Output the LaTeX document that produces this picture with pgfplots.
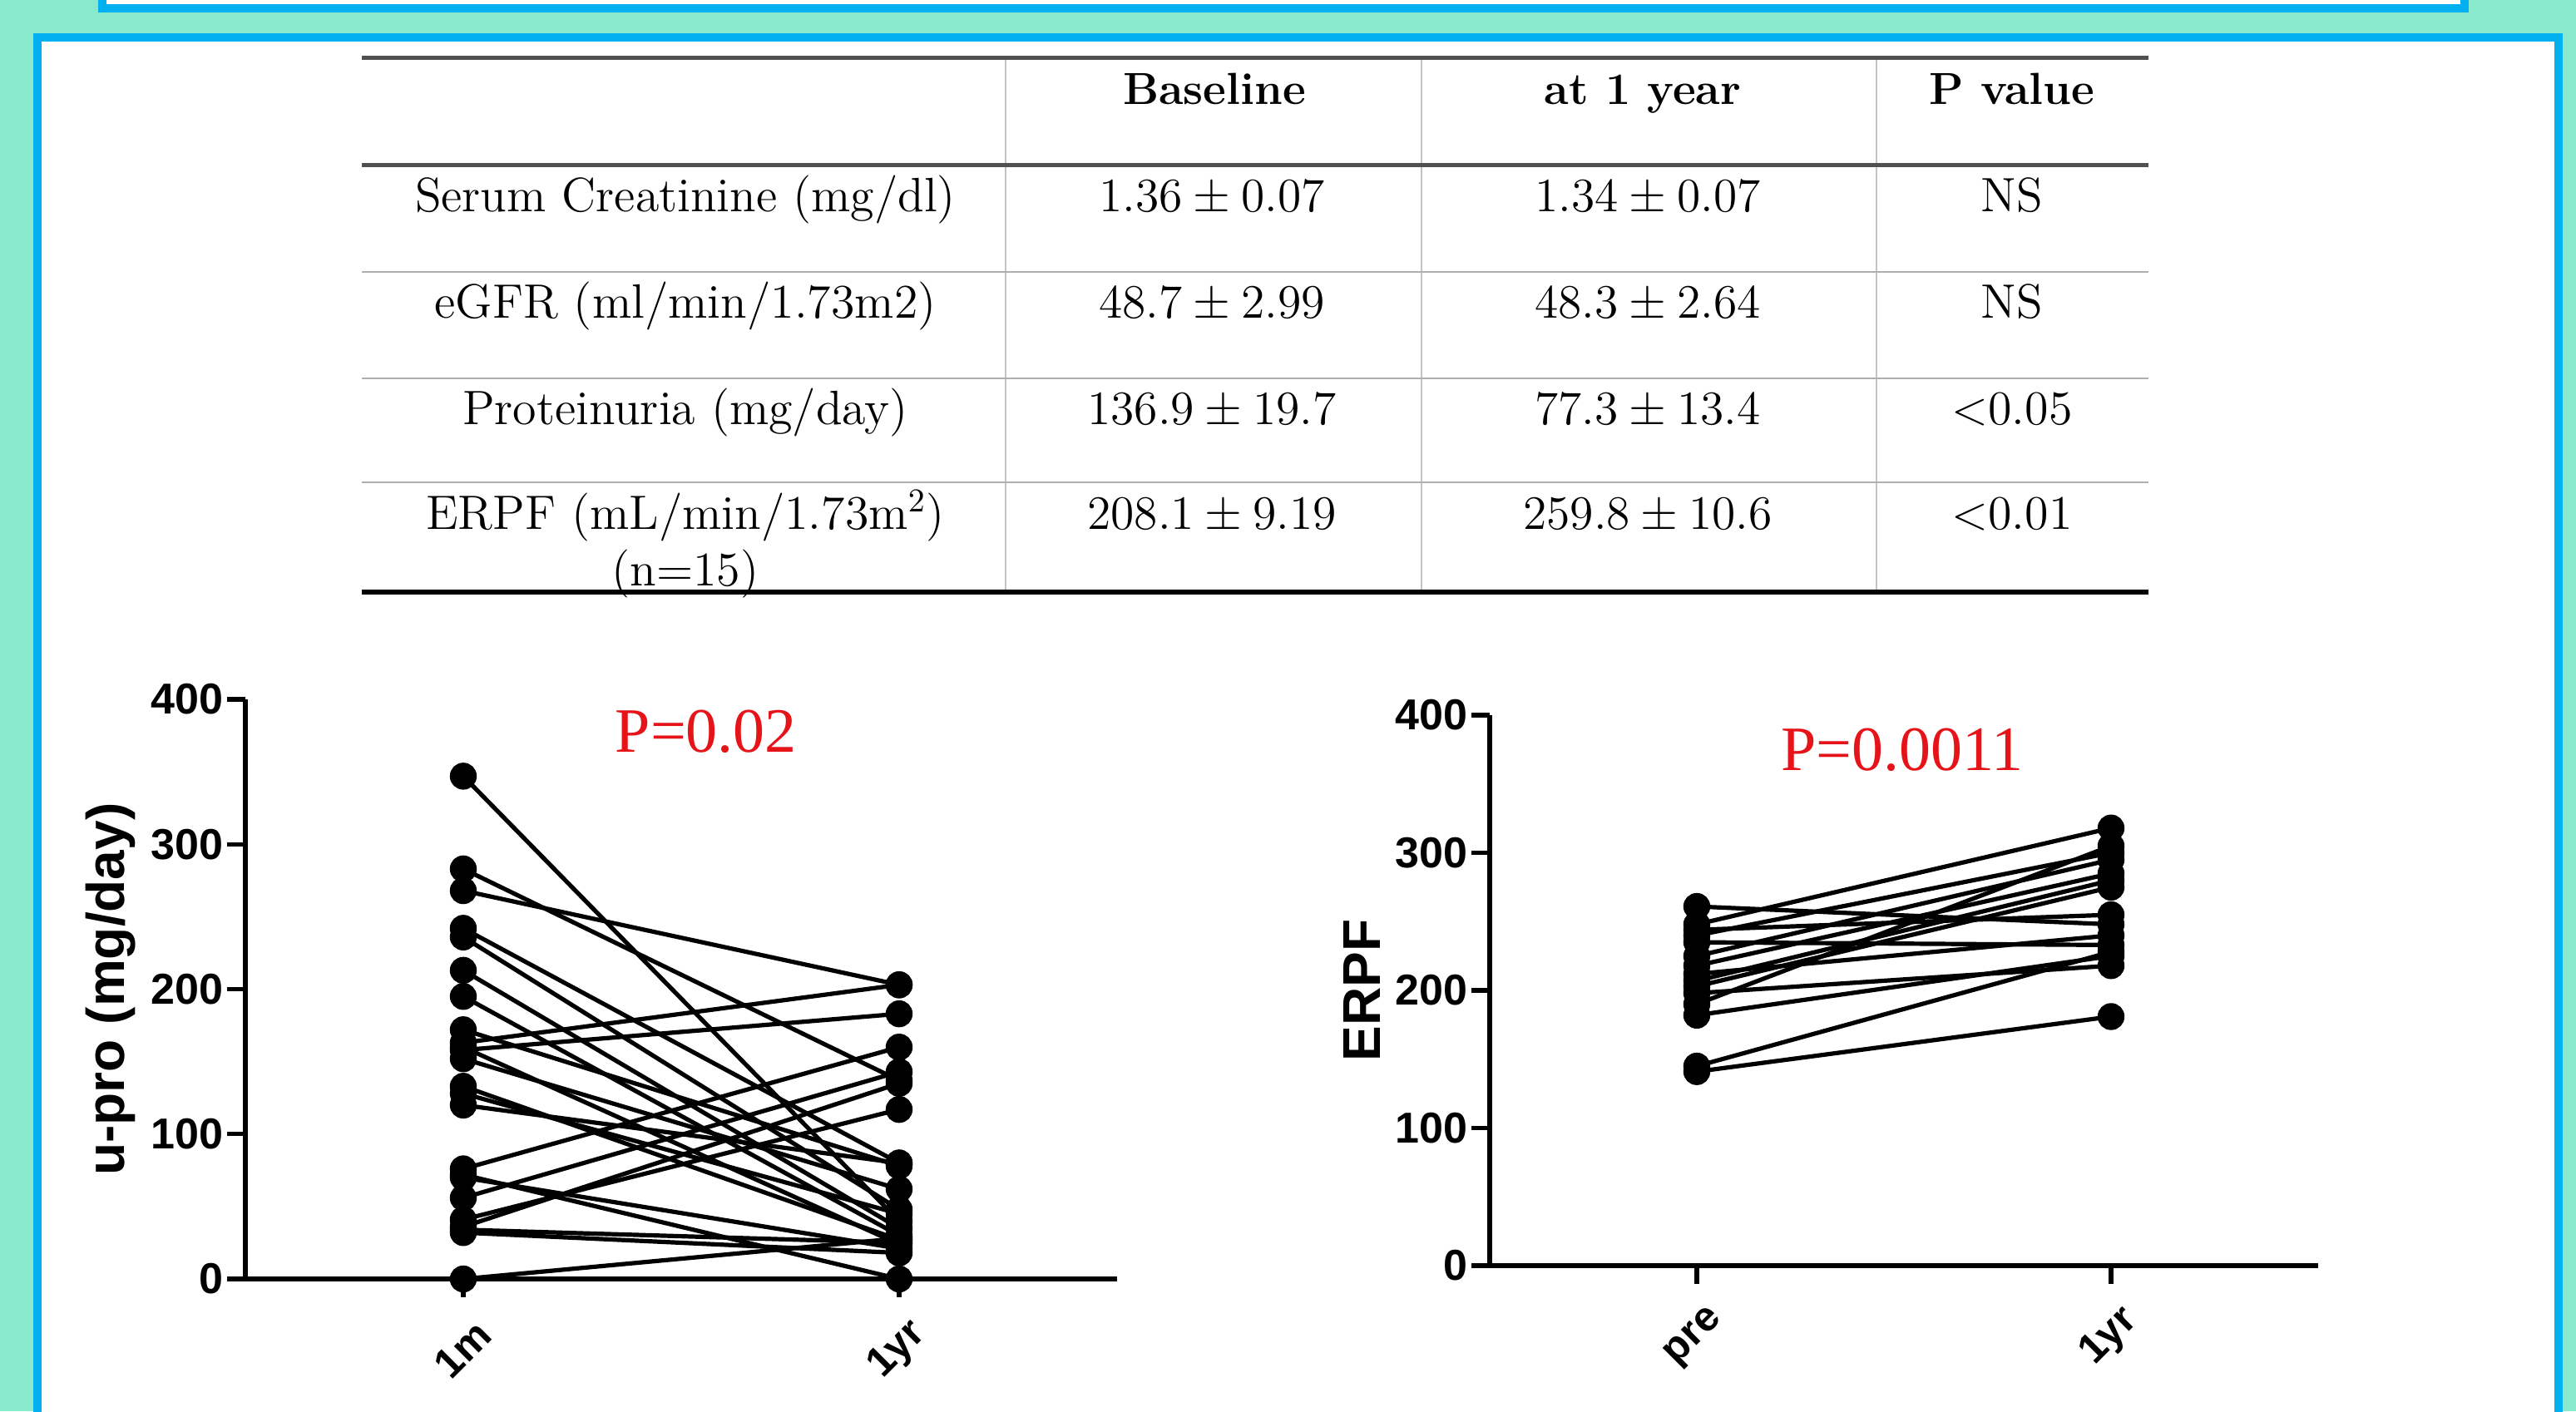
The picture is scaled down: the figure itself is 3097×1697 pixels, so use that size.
\documentclass[border=0pt]{standalone}
\usepackage{fontspec}
\usepackage{pgfplots}
\pgfplotsset{compat=1.18}
\newfontfamily\arialfont{Liberation Sans}
\newfontfamily\timesfont{Liberation Serif}
\definecolor{bgteal}{RGB}{136,233,204}
\definecolor{bordercyan}{RGB}{0,176,240}
\definecolor{pred}{RGB}{230,20,25}
\definecolor{darkline}{RGB}{80,80,80}
\definecolor{lightline}{RGB}{175,175,175}
\definecolor{vline}{RGB}{195,195,195}
\pgfplotsset{
  pairaxis/.style={
    scale only axis,
    xmin=-0.5, xmax=1.5, ymin=0, ymax=400,
    axis x line*=bottom, axis y line*=left,
    axis line style={line width=1.4pt, black},
    ytick={0,100,200,300,400}, xtick={0,1},
    tick align=outside, major tick length=5.5pt,
    tick style={line width=1.3pt, black},
    /pgf/number format/assume math mode=true,
    yticklabel style={font=\arialfont\bfseries\fontsize{13}{15}\selectfont, inner sep=1pt},
    xticklabel style={font=\arialfont\bfseries\fontsize{12.5}{14}\selectfont, rotate=45, anchor=east, inner sep=1pt, yshift=-11pt, xshift=-1pt},
    ylabel style={font=\arialfont\bfseries\fontsize{16}{18}\selectfont},
    clip=false,
  },
  pt/.style={black, line width=1.3pt, mark=*, mark size=3.4pt, mark options={solid, fill=black}},
}
\begin{document}
\begin{tikzpicture}
\begin{scope}[x=0.25pt,y=-0.25pt]
  \useasboundingbox (0,0) rectangle (3097,1697);
  \clip (0,0) rectangle (3097,1697);
  \fill[bgteal] (0,0) rectangle (3097,1697);
  % top box
  \fill[bordercyan] (118,-30) rectangle (2968,15);
  \fill[white] (128,-30) rectangle (2958,5);
  % main box
  \fill[bordercyan] (40,40) rectangle (3081,1750);
  \fill[white] (50,50) rectangle (3071,1750);
  % table lines
  \draw[vline, line width=0.5pt] (1209,69) -- (1209,712) (1709,69) -- (1709,712) (2256,69) -- (2256,712);
  \draw[darkline, line width=1.25pt] (435,69) -- (2583,69);
  \draw[darkline, line width=1.25pt] (435,198) -- (2583,198);
  \draw[lightline, line width=0.7pt] (435,327) -- (2583,327) (435,455) -- (2583,455) (435,580) -- (2583,580);
  \draw[black, line width=1.5pt] (435,712) -- (2583,712);
  % header
  \begin{scope}[every node/.style={anchor=base, inner sep=0pt, font=\bfseries\fontsize{13.5}{16}\selectfont}]
    \node at (1460,125) {Baseline};
    \node at (1975,125) {at 1 year};
    \node at (2419,125) {P value};
  \end{scope}
  \begin{scope}[every node/.style={anchor=base, inner sep=0pt, font=\fontsize{14.5}{17}\selectfont}]
    \node at (824,254) {Serum Creatinine (mg/dl)};
    \node at (1457,254) {$1.36\pm0.07$};
    \node at (1981,254) {$1.34\pm0.07$};
    \node at (2419,254) {NS};
    \node at (824,382) {eGFR (ml/min/1.73m2)};
    \node at (1457,382) {$48.7\pm2.99$};
    \node at (1981,382) {$48.3\pm2.64$};
    \node at (2419,382) {NS};
    \node at (824,510) {Proteinuria (mg/day)};
    \node at (1457,510) {$136.9\pm19.7$};
    \node at (1981,510) {$77.3\pm13.4$};
    \node at (2419,510) {$<$0.05};
    \node at (824,636) {ERPF (mL/min/1.73m$^{2}$)};
    \node at (824,704) {(n=15)};
    \node at (1457,636) {$208.1\pm9.19$};
    \node at (1981,636) {$259.8\pm10.6$};
    \node at (2419,636) {$<$0.01};
  \end{scope}
\end{scope}

% left plot: u-pro
\begin{axis}[pairaxis, at={(73.75pt,-384.5pt)}, anchor=south west,
  width=262pt, height=174.25pt,
  xticklabels={1m,1yr}, ylabel={u-pro (mg/day)}]
\addplot[pt] coordinates {(0,347) (1,40)};
\addplot[pt] coordinates {(0,283) (1,137)};
\addplot[pt] coordinates {(0,268) (1,203)};
\addplot[pt] coordinates {(0,242) (1,80)};
\addplot[pt] coordinates {(0,236) (1,48)};
\addplot[pt] coordinates {(0,213) (1,35)};
\addplot[pt] coordinates {(0,195) (1,30)};
\addplot[pt] coordinates {(0,172) (1,78)};
\addplot[pt] coordinates {(0,163) (1,203)};
\addplot[pt] coordinates {(0,158) (1,183)};
\addplot[pt] coordinates {(0,152) (1,62)};
\addplot[pt] coordinates {(0,133) (1,27)};
\addplot[pt] coordinates {(0,128) (1,45)};
\addplot[pt] coordinates {(0,120) (1,80)};
\addplot[pt] coordinates {(0,160) (1,24)};
\addplot[pt] coordinates {(0,76) (1,160)};
\addplot[pt] coordinates {(0,72) (1,0)};
\addplot[pt] coordinates {(0,70) (1,21)};
\addplot[pt] coordinates {(0,56) (1,143)};
\addplot[pt] coordinates {(0,41) (1,117)};
\addplot[pt] coordinates {(0,36) (1,135)};
\addplot[pt] coordinates {(0,34) (1,25)};
\addplot[pt] coordinates {(0,32) (1,18)};
\addplot[pt] coordinates {(0,0) (1,28)};
\node[font=\timesfont\fontsize{19}{22}\selectfont, text=pred, inner sep=0pt] at (axis cs:0.557,378) {P=0.02};
\end{axis}

% right plot: ERPF
\begin{axis}[pairaxis, at={(447.75pt,-380.5pt)}, anchor=south west,
  width=249pt, height=165.5pt,
  xticklabels={pre,1yr}, ylabel={ERPF}]
\addplot[pt] coordinates {(0,261) (1,248)};
\addplot[pt] coordinates {(0,248) (1,318)};
\addplot[pt] coordinates {(0,244) (1,255)};
\addplot[pt] coordinates {(0,240) (1,300)};
\addplot[pt] coordinates {(0,235) (1,233)};
\addplot[pt] coordinates {(0,225) (1,295)};
\addplot[pt] coordinates {(0,218) (1,285)};
\addplot[pt] coordinates {(0,212) (1,240)};
\addplot[pt] coordinates {(0,207) (1,280)};
\addplot[pt] coordinates {(0,203) (1,275)};
\addplot[pt] coordinates {(0,198) (1,218)};
\addplot[pt] coordinates {(0,190) (1,305)};
\addplot[pt] coordinates {(0,182) (1,225)};
\addplot[pt] coordinates {(0,145) (1,228)};
\addplot[pt] coordinates {(0,141) (1,181)};
\node[font=\timesfont\fontsize{19}{22}\selectfont, text=pred, inner sep=0pt] at (axis cs:0.496,375) {P=0.0011};
\end{axis}
\end{tikzpicture}
\end{document}
